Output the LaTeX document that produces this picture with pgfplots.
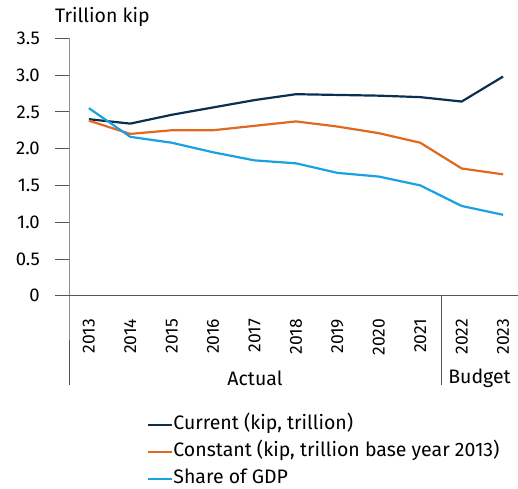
\documentclass[border=0pt]{standalone}
\usepackage{fontspec}
\setmainfont{Fira Sans}
\usepackage{pgfplots}
\usetikzlibrary{calc}
\pgfplotsset{compat=1.18}
\definecolor{cur}{HTML}{0B2F4E}
\definecolor{con}{HTML}{E0691F}
\definecolor{gdp}{HTML}{1AA1E4}
\definecolor{axg}{HTML}{555555}
\newcommand{\bigf}{\fontsize{19.5}{23}\selectfont}
\begin{document}
\bigf
\begin{tikzpicture}[x=1pt,y=1pt]
\useasboundingbox (0,0) rectangle (518,488);
\begin{axis}[
  at={(69pt,192.3pt)}, anchor=south west,
  scale only axis, width=449pt, height=257.4pt,
  xmin=-0.48, xmax=10.36, ymin=0, ymax=3.5,
  clip=false,
  axis line style={draw=none},
  /pgf/number format/assume math mode=true,
  ytick={0,0.5,1,1.5,2,2.5,3,3.5},
  yticklabels={0,0.5,1.0,1.5,2.0,2.5,3.0,3.5},
  ytick pos=left,
  y tick style={axg, line width=0.8pt},
  major tick length=14pt,
  tick align=outside,
  yticklabel style={font=\fontsize{18.5}{22}\selectfont, inner sep=0pt, anchor=east, xshift=-15pt},
  xtick={0,...,10},
  xticklabels={2013,2014,2015,2016,2017,2018,2019,2020,2021,2022,2023},
  x tick style={draw=none},
  xtick pos=bottom,
  xticklabel shift=9pt,
  xticklabel style={font=\fontsize{17.5}{21}\selectfont, rotate=90, anchor=east, inner sep=0pt},
  legend style={draw=none, fill=none, at={(rel axis cs:0.1737,-0.468)}, anchor=north west,
    inner sep=0pt, row sep=10pt, font=\bigf,
    nodes={inner sep=0pt, text height=13pt, text depth=4pt}},
  legend cell align=left,
  legend image code/.code={\draw[#1, line width=2.2pt] (0pt,0pt) -- (15pt,0pt); \path (0pt,0pt) -- (24pt,0pt);},
]
\addplot[cur, line width=2.2pt] coordinates {(0,2.40) (1,2.34) (2,2.46) (3,2.56) (4,2.66) (5,2.74) (6,2.73) (7,2.72) (8,2.70) (9,2.64) (10,2.98)};
\addlegendentry{Current (kip, trillion)}
\addplot[con, line width=2.2pt] coordinates {(0,2.38) (1,2.20) (2,2.25) (3,2.25) (4,2.31) (5,2.37) (6,2.30) (7,2.21) (8,2.08) (9,1.73) (10,1.65)};
\addlegendentry{Constant (kip, trillion base year 2013)}
\addplot[gdp, line width=2.2pt] coordinates {(0,2.55) (1,2.16) (2,2.08) (3,1.95) (4,1.84) (5,1.80) (6,1.67) (7,1.62) (8,1.50) (9,1.22) (10,1.10)};
\addlegendentry{Share of GDP}
\draw[axg, line width=0.8pt] (rel axis cs:0,1) -- (rel axis cs:0,0) -- ++(0pt,-89.3pt);
\draw[axg, line width=0.8pt] (rel axis cs:0,0) ++(-14pt,0pt) -- (rel axis cs:1,0);
\draw[axg, line width=0.8pt] (axis cs:8.5,0) -- ++(0pt,-89.3pt);
\node[font=\bigf] at ($(axis cs:4.01,0)+(0pt,-82.3pt)$) {Actual};
\node[font=\bigf] at ($(axis cs:9.43,0)+(0pt,-82.3pt)$) {Budget};
\node[font=\bigf, anchor=west, inner sep=0pt] at ($(rel axis cs:0,1)+(-14pt,21pt)$) {Trillion kip};
\end{axis}
\end{tikzpicture}
\end{document}
